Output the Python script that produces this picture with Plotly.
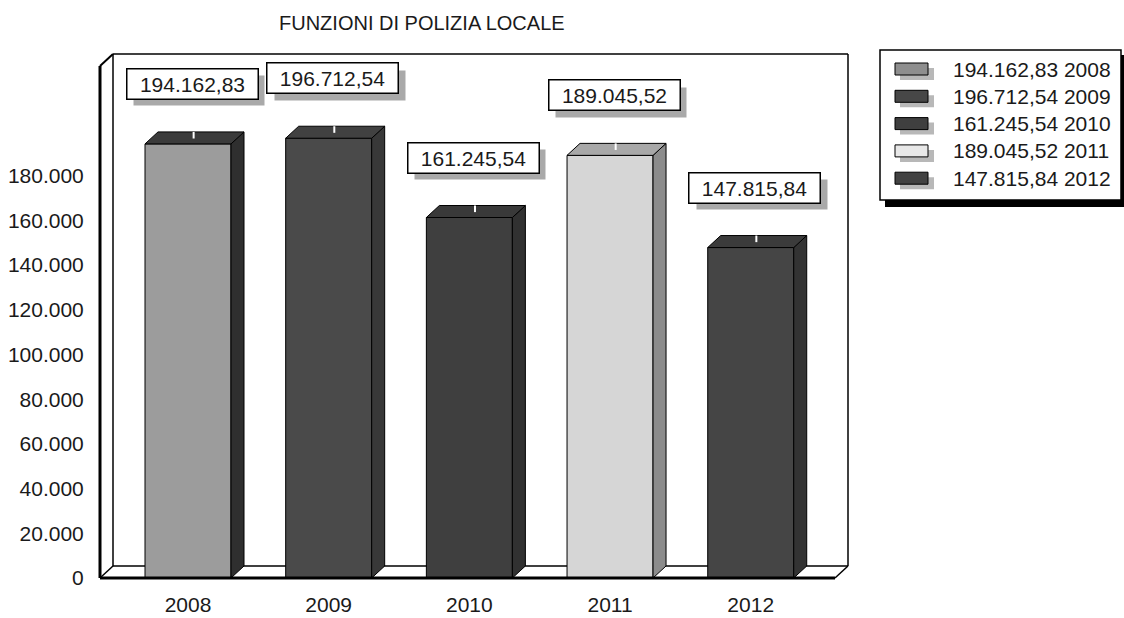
import plotly.graph_objects as go

anni = ["2008", "2009", "2010", "2011", "2012"]
valori = [194162.83, 196712.54, 161245.54, 189045.52, 147815.84]
y_ticks = [0, 20000, 40000, 60000, 80000, 100000, 120000, 140000, 160000, 180000]

colori_fronte = ["#9c9c9c", "#4a4a4a", "#3f3f3f", "#d6d6d6", "#454545"]
colori_lato = ["#2f2f2f", "#383838", "#313131", "#8c8c8c", "#333333"]
colori_cima = ["#3b3b3b", "#414141", "#393939", "#a8a8a8", "#3b3b3b"]
colori_legenda = ["#8e8e8e", "#474747", "#3f3f3f", "#e8e8e8", "#424242"]

FONT = "Liberation Sans, Arial, sans-serif"

# scala: pixel per unità x, unità y per pixel
PXX = 140.68
UPY = 447.3
DX = 13 / PXX
DY = 12 * UPY
BW = 86 / PXX

L, R, T, B = 96, 852, 50, 580
X_RANGE = [(L - 188) / PXX, (R - 188) / PXX]
Y_RANGE = [-(B - 578) * UPY, (578 - T) * UPY]
X0 = (100 - 188) / PXX
X1 = (848 - 188) / PXX
YT = (578 - 54) * UPY


def fmt(v):
    s = f"{v:,.2f}"
    return s.replace(",", "X").replace(".", ",").replace("X", ".")


def px(xp):
    return (xp - L) / (R - L)


def py(yp):
    return (B - yp) / (B - T)


fig = go.Figure()

# facce frontali
fig.add_trace(go.Bar(
    x=list(range(len(anni))),
    y=valori,
    width=BW,
    marker=dict(color=colori_fronte, line=dict(color="black", width=1)),
    hoverinfo="skip",
))

# lati e cime 3D
for i, v in enumerate(valori):
    xl, xr = i - BW / 2, i + BW / 2
    fig.add_trace(go.Scatter(
        x=[xr, xr, xr + DX, xr + DX, xr],
        y=[0, v, v + DY, DY, 0],
        fill="toself", fillcolor=colori_lato[i],
        mode="lines", line=dict(color="black", width=1),
        hoverinfo="skip",
    ))
    fig.add_trace(go.Scatter(
        x=[xl, xr, xr + DX, xl + DX, xl],
        y=[v, v, v + DY, v + DY, v],
        fill="toself", fillcolor=colori_cima[i],
        mode="lines", line=dict(color="black", width=1),
        hoverinfo="skip",
    ))
    fig.add_trace(go.Scatter(
        x=[i + 0.04, i + 0.04],
        y=[v + DY * 0.45, v + DY],
        mode="lines", line=dict(color="white", width=2),
        hoverinfo="skip",
    ))

# cornice 3D
cornice = [
    (X0 + DX, DY, X1, DY, 1.5, "below"),
    (X0 + DX, DY, X0 + DX, YT, 1.5, "below"),
    (X0 + DX, YT, X1, YT, 1.5, "below"),
    (X1, DY, X1, YT, 1.5, "below"),
    (X0, 0, X0 + DX, DY, 1.5, "below"),
    (X1 - DX, 0, X1, DY, 1.5, "below"),
    (X0, 0, X0, YT - DY, 3, "above"),
    (X0, YT - DY, X0 + DX, YT, 2, "above"),
    (X0, 0, X1 - DX, 0, 3, "above"),
]
for xa, ya, xb, yb, w, layer in cornice:
    fig.add_shape(type="line", xref="x", yref="y", x0=xa, y0=ya, x1=xb, y1=yb,
                  line=dict(color="black", width=w), layer=layer)

# etichette valori con ombra
for i, v in enumerate(valori):
    common = dict(x=i, y=v + 60 * UPY, xref="x", yref="y", showarrow=False,
                  width=128, height=27, borderpad=1,
                  font=dict(family=FONT, size=21, color="#1a1a1a"))
    fig.add_annotation(text="", bgcolor="#a9a9a9", xshift=11, yshift=-7, **common)
    fig.add_annotation(text=fmt(v), bgcolor="white", bordercolor="black",
                       borderwidth=1.5, xshift=4, **common)

# legenda
fig.add_shape(type="rect", xref="paper", yref="paper",
              x0=px(885), x1=px(1126), y0=py(207), y1=py(55),
              fillcolor="black", line=dict(width=0))
fig.add_shape(type="rect", xref="paper", yref="paper",
              x0=px(880), x1=px(1121), y0=py(200), y1=py(50),
              fillcolor="white", line=dict(color="black", width=1.5))
for i, (a, v) in enumerate(zip(anni, valori)):
    yc = 69 + 27.3 * i
    fig.add_shape(type="rect", xref="paper", yref="paper",
                  x0=px(900), x1=px(934), y0=py(yc + 11), y1=py(yc - 1),
                  fillcolor="#b8b8b8", line=dict(width=0))
    fig.add_shape(type="rect", xref="paper", yref="paper",
                  x0=px(895), x1=px(928), y0=py(yc + 6), y1=py(yc - 6),
                  fillcolor=colori_legenda[i], line=dict(color="black", width=1))
    fig.add_annotation(text=f"{fmt(v)} {a}", xref="paper", yref="paper",
                       x=px(951), y=py(yc), xanchor="left", yanchor="middle",
                       showarrow=False,
                       font=dict(family=FONT, size=21, color="#1a1a1a"))

# titolo
fig.add_annotation(text="FUNZIONI DI POLIZIA LOCALE", xref="paper", yref="paper",
                   x=px(422), y=py(23), xanchor="center", yanchor="middle",
                   showarrow=False, font=dict(family=FONT, size=20, color="#1a1a1a"))

fig.update_layout(
    width=1124,
    height=618,
    margin=dict(l=L, r=1124 - R, t=T, b=618 - B),
    paper_bgcolor="white",
    plot_bgcolor="white",
    showlegend=False,
    separators=",.",
    font=dict(family=FONT, size=21, color="#1a1a1a"),
    xaxis=dict(
        range=X_RANGE,
        tickvals=list(range(len(anni))),
        ticktext=anni,
        showgrid=False, zeroline=False, showline=False,
        ticks="outside", ticklen=6, tickcolor="rgba(0,0,0,0)",
        tickfont=dict(size=21),
        automargin=False,
        fixedrange=True,
    ),
    yaxis=dict(
        range=Y_RANGE,
        tickvals=y_ticks,
        tickformat=",d",
        showgrid=False, zeroline=False, showline=False,
        ticks="outside", ticklen=7, tickcolor="rgba(0,0,0,0)",
        tickfont=dict(size=21),
        automargin=False,
        fixedrange=True,
    ),
)

fig.write_html("out.html", config={"displayModeBar": False},
               post_script="document.body.style.margin='0px';")
